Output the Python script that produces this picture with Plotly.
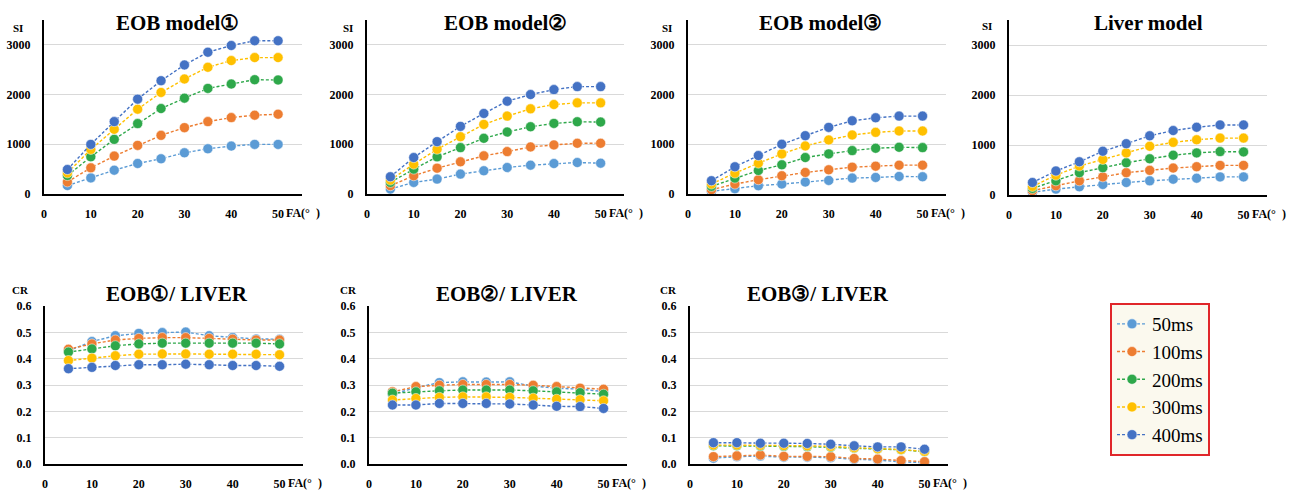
import plotly.graph_objects as go

W, H = 1291, 490

fa = [5, 10, 15, 20, 25, 30, 35, 40, 45, 50]
series_names = ["50ms", "100ms", "200ms", "300ms", "400ms"]
colors = ["#5B9BD5", "#ED7D31", "#2EA84A", "#FFC000", "#4472C4"]

# SI values per model (rows: 50,100,200,300,400 ms)
eob1_si = [
    [170, 324, 479, 614, 708, 829, 910, 964, 998, 998],
    [243, 526, 762, 978, 1180, 1335, 1456, 1537, 1585, 1605],
    [371, 748, 1099, 1416, 1719, 1928, 2124, 2212, 2299, 2293],
    [425, 897, 1301, 1706, 2043, 2313, 2549, 2684, 2744, 2744],
    [492, 998, 1456, 1908, 2279, 2596, 2852, 2987, 3082, 3082],
]
eob2_si = [
    [100, 233, 300, 400, 467, 533, 580, 613, 633, 620],
    [167, 367, 520, 647, 767, 853, 947, 987, 1020, 1020],
    [233, 500, 747, 933, 1120, 1247, 1353, 1420, 1453, 1447],
    [280, 600, 900, 1153, 1400, 1567, 1713, 1800, 1833, 1833],
    [347, 733, 1053, 1360, 1620, 1867, 2000, 2100, 2160, 2160],
]
eob3_si = [
    [53, 107, 167, 200, 240, 273, 320, 333, 353, 347],
    [87, 200, 287, 367, 433, 487, 540, 560, 580, 580],
    [153, 320, 473, 587, 733, 807, 873, 920, 940, 933],
    [200, 420, 620, 807, 967, 1087, 1187, 1240, 1267, 1267],
    [267, 547, 773, 1000, 1173, 1340, 1473, 1533, 1567, 1567],
]
liver_si = [
    [53, 118, 164, 211, 250, 283, 316, 336, 362, 362],
    [86, 184, 283, 362, 447, 493, 539, 566, 592, 592],
    [132, 283, 447, 546, 645, 724, 796, 842, 868, 862],
    [171, 395, 579, 711, 842, 974, 1053, 1105, 1138, 1138],
    [250, 480, 664, 875, 1026, 1184, 1289, 1355, 1401, 1401],
]
# CR values
eob1_cr = [
    [0.430, 0.465, 0.487, 0.496, 0.499, 0.501, 0.487, 0.480, 0.475, 0.474],
    [0.436, 0.456, 0.471, 0.477, 0.480, 0.480, 0.477, 0.474, 0.471, 0.471],
    [0.425, 0.437, 0.449, 0.456, 0.459, 0.459, 0.459, 0.459, 0.459, 0.456],
    [0.393, 0.402, 0.411, 0.417, 0.418, 0.418, 0.417, 0.417, 0.417, 0.415],
    [0.362, 0.367, 0.374, 0.377, 0.377, 0.379, 0.377, 0.374, 0.374, 0.371],
]
eob2_cr = [
    [0.265, 0.290, 0.309, 0.312, 0.311, 0.312, 0.296, 0.288, 0.284, 0.275],
    [0.274, 0.294, 0.299, 0.302, 0.302, 0.302, 0.299, 0.294, 0.288, 0.284],
    [0.269, 0.274, 0.278, 0.281, 0.281, 0.281, 0.278, 0.274, 0.271, 0.265],
    [0.243, 0.249, 0.253, 0.255, 0.255, 0.253, 0.250, 0.246, 0.244, 0.240],
    [0.224, 0.224, 0.230, 0.230, 0.230, 0.228, 0.224, 0.219, 0.218, 0.211],
]
eob3_cr = [
    [0.022, 0.028, 0.030, 0.026, 0.026, 0.024, 0.018, 0.015, 0.008, 0.005],
    [0.028, 0.031, 0.034, 0.029, 0.029, 0.028, 0.021, 0.019, 0.013, 0.009],
    [0.069, 0.069, 0.068, 0.067, 0.066, 0.064, 0.060, 0.057, 0.054, 0.047],
    [0.072, 0.072, 0.071, 0.070, 0.069, 0.067, 0.062, 0.058, 0.055, 0.048],
    [0.081, 0.081, 0.079, 0.079, 0.078, 0.075, 0.069, 0.065, 0.065, 0.056],
]

si_ticks = [0, 1000, 2000, 3000]
cr_ticks = [0.0, 0.1, 0.2, 0.3, 0.4, 0.5, 0.6]
cr_ticktext = ["0.0", "0.1", "0.2", "0.3", "0.4", "0.5", "0.6"]
x_ticks = [0, 10, 20, 30, 40, 50]

panels = [
    # title, data, kind, x px domain, y px domain (top, bottom), title cx, title cy, label x, label y
    ("EOB model①", eob1_si, "SI", (44, 301.5), (20, 194), 177, 23, 18, 28),
    ("EOB model②", eob2_si, "SI", (367, 624), (20, 194), 505, 23, 348, 28),
    ("EOB model③", eob3_si, "SI", (688, 946), (20, 194), 820, 23, 667, 28),
    ("Liver model", liver_si, "SI", (1009, 1267), (20, 195), 1148, 23, 987, 26),
    ("EOB①/ LIVER", eob1_cr, "CR", (45, 303), (306, 464), 177, 294, 20, 290),
    ("EOB②/ LIVER", eob2_cr, "CR", (369, 627), (306, 464), 507, 294, 348, 290),
    ("EOB③/ LIVER", eob3_cr, "CR", (690, 948), (306, 464), 818, 294, 668, 290),
]

SERIF = "Liberation Serif"
fig = go.Figure()
annotations = []
layout = {}

for i, (title, data, kind, xd, yd, tcx, tcy, labx, laby) in enumerate(panels):
    n = "" if i == 0 else str(i + 1)
    xa, ya = "x" + n, "y" + n
    for s, (name, col) in enumerate(zip(series_names, colors)):
        fig.add_trace(go.Scatter(
            x=fa, y=data[s], name=name, xaxis=xa, yaxis=ya,
            mode="lines+markers",
            line=dict(color=col, width=1.4, dash="3px,2px"),
            marker=dict(color=col, size=10, line=dict(color="rgba(255,255,255,0.5)", width=1)),
            showlegend=(i == 0), legendgroup=name,
        ))
    dom_x = [xd[0] / W, xd[1] / W]
    dom_y = [1 - yd[1] / H, 1 - yd[0] / H]
    layout["xaxis" + n] = dict(
        domain=dom_x, range=[0, 55], tickvals=x_ticks, anchor=ya, automargin=False,
        showline=True, linecolor="black", linewidth=2, showgrid=False, zeroline=False,
        ticks="outside", ticklen=8, tickcolor="rgba(0,0,0,0)",
        tickfont=dict(family=SERIF, size=12, color="black", weight="bold"),
    )
    if kind == "SI":
        yax = dict(range=[0, 3500], tickvals=si_ticks)
    else:
        yax = dict(range=[0, 0.6], tickvals=cr_ticks, ticktext=cr_ticktext)
    yax.update(
        domain=dom_y, anchor=xa, automargin=False,
        showline=True, linecolor="black", linewidth=2, showgrid=True,
        gridcolor="#D9D9D9", gridwidth=1, zeroline=False,
        ticks="outside", ticklen=9, tickcolor="rgba(0,0,0,0)",
        tickfont=dict(family=SERIF, size=12, color="black", weight="bold"),
    )
    layout["yaxis" + n] = yax
    annotations.append(dict(
        text="<b>" + title + "</b>", x=tcx / W, y=1 - tcy / H, xref="paper", yref="paper",
        xanchor="center", yanchor="middle", showarrow=False,
        font=dict(family=SERIF, size=21, color="black"),
    ))
    annotations.append(dict(
        text="<b>" + kind + "</b>", x=labx / W, y=1 - laby / H, xref="paper", yref="paper",
        xanchor="center", yanchor="middle", showarrow=False,
        font=dict(family=SERIF, size=11, color="black"),
    ))
    annotations.append(dict(
        text="<b>FA(°  )</b>", x=50, xref=xa, y=1 - (yd[1] + 19) / H, yref="paper",
        xanchor="left", yanchor="middle", xshift=6, showarrow=False,
        font=dict(family=SERIF, size=12, color="black"),
    ))

fig.update_layout(
    width=W, height=H, margin=dict(l=0, r=0, t=0, b=0, autoexpand=False),
    paper_bgcolor="white", plot_bgcolor="white",
    annotations=annotations,
    legend=dict(
        x=1110 / W, y=1 - 303 / H, xanchor="left", yanchor="top",
        bgcolor="#FBF9EE", bordercolor="#E0262A", borderwidth=2,
        font=dict(family=SERIF, size=19, color="black"),
        itemwidth=30, tracegroupgap=0,
    ),
    **layout,
)

fig.write_html(
    "out.html",
    config={"displayModeBar": False},
    post_script="document.body.style.margin='0px';document.body.style.overflow='hidden';",
)
